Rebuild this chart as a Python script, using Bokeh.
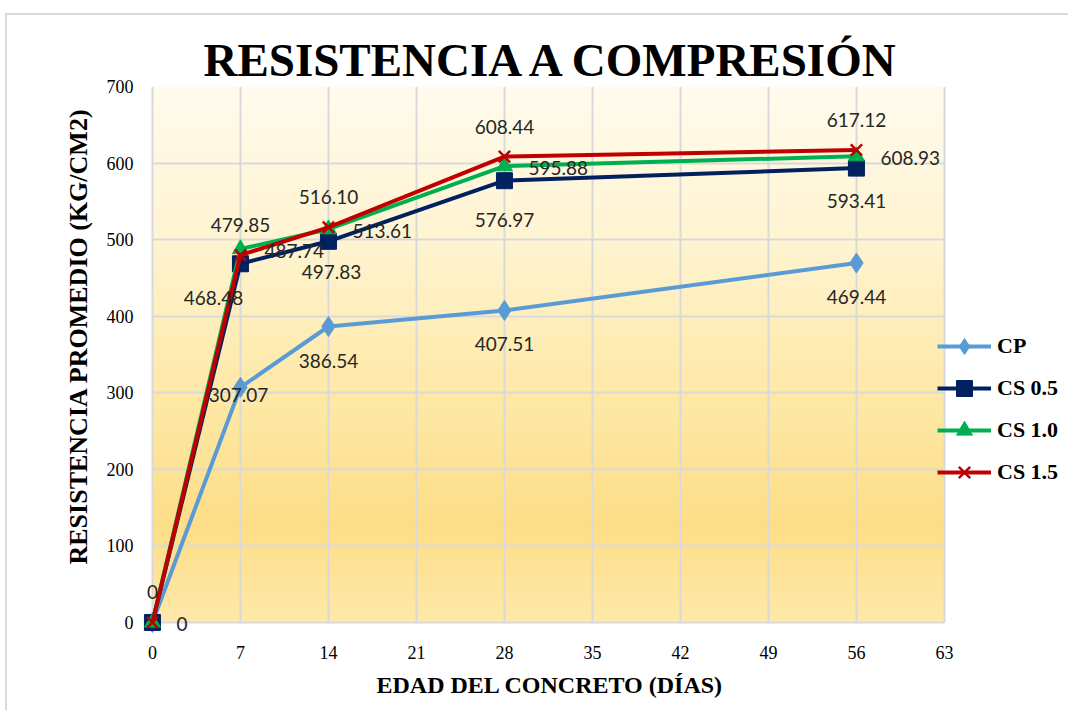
import numpy as np
from bokeh.plotting import figure
from bokeh.models import ColumnDataSource, LabelSet, Legend, LegendItem, Title, FixedTicker
from bokeh.core.properties import value
from bokeh.embed import file_html
from bokeh.resources import INLINE

# ---- data ----
dias = [0, 7, 14, 28, 56]
cp = [0, 307.07, 386.54, 407.51, 469.44]
cs05 = [0, 468.48, 497.83, 576.97, 593.41]
cs10 = [0, 487.74, 513.61, 595.88, 608.93]
cs15 = [0, 479.85, 516.10, 608.44, 617.12]
series_names = ["CP", "CS 0.5", "CS 1.0", "CS 1.5"]
x_ticks = [0, 7, 14, 21, 28, 35, 42, 49, 56, 63]
y_ticks = [0, 100, 200, 300, 400, 500, 600, 700]
x_title = "EDAD DEL CONCRETO (DÍAS)"
y_title = "RESISTENCIA PROMEDIO (KG/CM2)"

SERIF = "Liberation Serif"
W, H = 1063, 697
X0, X1, Y0, Y1 = 0, 63, 0, 700
# frame extends a little left/below the data area (room for the origin markers)
# and to the right (room for the legend, so it is not clipped)
XLO, XHI, YLO = -0.95, 72.71, -15.7

p = figure(width=W, height=H, output_backend="svg", toolbar_location=None,
           x_range=(XLO, XHI), y_range=(YLO, Y1),
           min_border_left=133, min_border_right=4, min_border_top=71, min_border_bottom=78,
           background_fill_color=None, border_fill_color="white")
p.styles = {"margin-left": "5px", "margin-top": "13px",
            "border-top": "2px solid #D9D9D9", "border-left": "2px solid #D9D9D9"}

# gradient background of the plot area
stops_f = [0.0, 0.3, 0.6, 0.82, 1.0]
stops_c = [(255, 251, 238), (255, 244, 208), (254, 232, 164), (253, 222, 136), (255, 233, 170)]
n = 200
fr = np.linspace(1.0, 0.0, n)  # row 0 is bottom
img = np.zeros((n, 1), dtype=np.uint32)
view = img.view(dtype=np.uint8).reshape((n, 1, 4))
for ch in range(3):
    view[:, 0, ch] = np.interp(fr, stops_f, [c[ch] for c in stops_c]).astype(np.uint8)
view[:, 0, 3] = 255
p.image_rgba(image=[img], x=X0, y=Y0, dw=X1 - X0, dh=Y1 - Y0, level="image")

# title
p.title = Title(text="RESISTENCIA A COMPRESIÓN", align="left", offset=63, text_font=SERIF,
                text_font_size="47px", text_font_style="bold", text_color="#000000",
                standoff=2)

# axes
for ax in (p.xaxis[0], p.yaxis[0]):
    ax.axis_line_color = None
    ax.major_tick_line_color = None
    ax.minor_tick_line_color = None
    ax.major_label_text_font = SERIF
    ax.major_label_text_font_size = "18px"
    ax.major_label_text_color = "#000000"
p.xaxis.bounds = (X0, X1)
p.yaxis.bounds = (Y0, Y1)
p.xaxis.ticker = FixedTicker(ticks=x_ticks)
p.yaxis.ticker = FixedTicker(ticks=y_ticks)
p.xaxis.major_label_standoff = 5
p.yaxis.major_label_standoff = 1

# axis titles (as titles so they can be placed over the data area only)
p.add_layout(Title(text=x_title, align="left", offset=236, text_font=SERIF,
                   text_font_size="24px", text_font_style="bold", text_color="#000000",
                   standoff=17), "below")
p.add_layout(Title(text=y_title, align="left", offset=70, text_font=SERIF,
                   text_font_size="26px", text_font_style="bold", text_color="#000000",
                   standoff=21), "left")

p.xgrid.bounds = (X0, X1)
p.ygrid.bounds = (Y0, Y1)
p.xgrid.cross_bounds = (Y0, Y1)
p.ygrid.cross_bounds = (X0, X1)
p.grid.grid_line_color = "#D9D9D9"
p.grid.grid_line_width = 2
p.outline_line_color = None

colors = ["#5B9BD5", "#002060", "#00B050", "#C00000"]
markers = ["diamond", "square", "triangle", "x"]
msizes = [20, 16, 16, 16]
values = [cp, cs05, cs10, cs15]

items = []
for name, vals, col, mk, ms in zip(series_names, values, colors, markers, msizes):
    src = ColumnDataSource(dict(x=dias, y=vals))
    r1 = p.line("x", "y", source=src, line_color=col, line_width=4)
    r2 = p.scatter("x", "y", source=src, marker=mk, size=ms, fill_color=col,
                   line_color=col, line_width=2.5 if mk == "x" else 1)
    items.append(LegendItem(label=name, renderers=[r1, r2]))

# label placement styles per series: (text_align, x_offset, y_offset)
placement = {
    "CP": ("center", 0, -34),
    "CS 0.5": ("center", 0, -34),
    "CS 1.0": ("left", 24, -2),
    "CS 1.5": ("center", 0, 30),
}
for name, vals in zip(series_names, values):
    align, dx, dy = placement[name]
    labs = [("%.2f" % v) if v else "0" for v in vals]
    if name == "CP":
        xo = [0, -2, 0, 0, 0]
        yo = [dy, -8, dy, dy, dy]
    elif name == "CS 0.5":
        xo = [0, -27, 3, 0, 0]
        yo = [dy, dy, -31, -39, -33]
    else:
        xo = [dx] * len(vals)
        yo = [dy] * len(vals)
    src = ColumnDataSource(dict(x=dias, y=vals, lab=labs, xo=xo, yo=yo))
    p.add_layout(LabelSet(x="x", y="y", text="lab", source=src, x_offset="xo", y_offset="yo",
                          text_align=align, text_baseline="middle",
                          text_font=value("Lato"), text_font_size="19px", text_color="#262626"))

legend = Legend(items=items, location=(797, 142), background_fill_alpha=0,
                border_line_color=None, label_text_font=SERIF, label_text_font_size="22px",
                label_text_font_style="bold", label_text_color="#000000",
                glyph_width=54, glyph_height=40, spacing=2, label_standoff=6,
                padding=0, margin=0)
p.add_layout(legend)

open("out.html", "w").write(file_html(p, INLINE))
